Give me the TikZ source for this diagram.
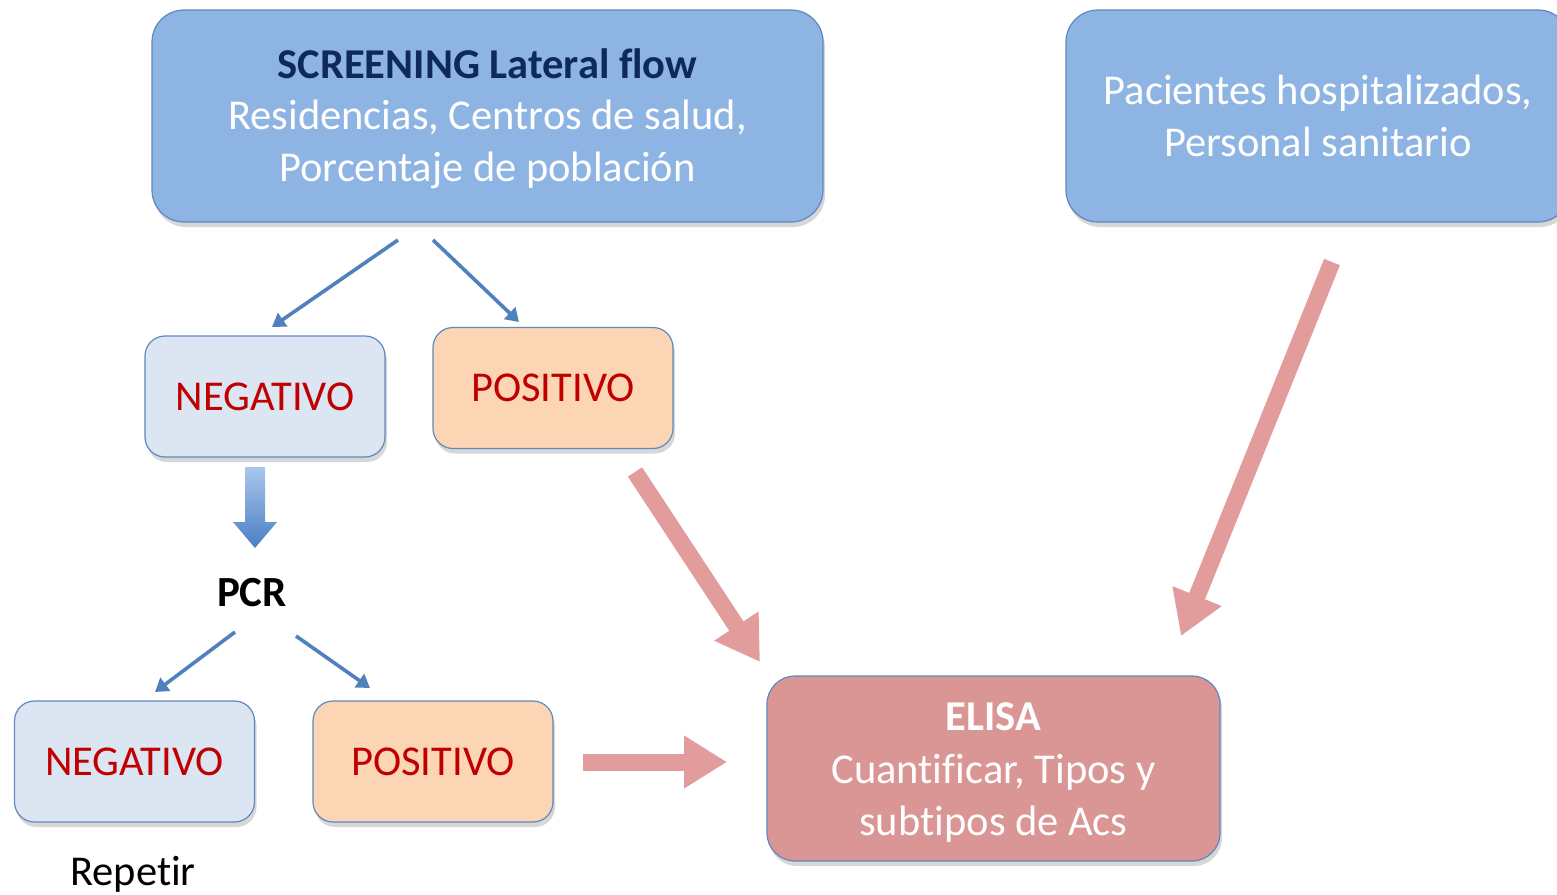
\documentclass[tikz,border=0pt]{standalone}
\usepackage{fontspec}
\setmainfont[Ligatures=NoCommon]{Carlito}
\usetikzlibrary{arrows.meta,shadows,calc}
\definecolor{bigblue}{HTML}{8DB4E2}
\definecolor{edgeblue}{HTML}{5F88BF}
\definecolor{lightblue}{HTML}{DCE6F2}
\definecolor{peach}{HTML}{FCD5B5}
\definecolor{elisapink}{HTML}{D99694}
\definecolor{arrowpink}{HTML}{E39C9C}
\definecolor{redtext}{HTML}{C00000}
\definecolor{navy}{HTML}{0E2A5C}
\definecolor{thinblue}{HTML}{4F81BD}
\definecolor{gradtop}{HTML}{A9C8EC}
\definecolor{gradbot}{HTML}{4A7EC4}
\tikzset{
  box/.style={draw=edgeblue, line width=1.2pt, align=center, inner sep=0pt,
    drop shadow={shadow xshift=2pt, shadow yshift=-5pt, opacity=0.22, fill=black!70}},
  bigbox/.style={box, fill=bigblue, rounded corners=32pt},
  boxtext/.style={inner sep=0pt, align=center, text=white,
    font=\fontsize{42.5}{51.5}\selectfont},
  negbox/.style={box, fill=lightblue, rounded corners=20pt, text=redtext,
    minimum width=240pt, minimum height=121pt, font=\fontsize{42.5}{51}\selectfont},
  posbox/.style={negbox, fill=peach},
  elisabox/.style={box, fill=elisapink, rounded corners=28pt},
  thinarrow/.style={draw=thinblue, line width=3.6pt,
    -{Triangle[length=13pt,width=16pt]}},
  pinkarrow/.style={draw=arrowpink, line width=17pt,
    -{Triangle[length=43pt,width=50pt]}},
  plaintext/.style={inner sep=0pt, text=black, font=\fontsize{42.5}{51}\selectfont}
}
\begin{document}
\begin{tikzpicture}[x=1pt,y=-1pt]
\useasboundingbox (0,0) rectangle (1557,894);
\fill[white] (0,0) rectangle (1557,894);

\node[bigbox, minimum width=671pt, minimum height=212pt] (scr) at (487.5,116) {};
\node[boxtext] (scrt) at ($(scr.center)+(0,2.5)$)
  {\textbf{\textcolor{navy}{SCREENING Lateral flow}}\\Residencias, Centros de salud,\\Porcentaje de población};
\node[bigbox, minimum width=504pt, minimum height=212pt] (pac) at (1318,116) {};
\node[boxtext] (pact) at ($(pac.center)+(0,0)$)
  {Pacientes hospitalizados,\\Personal sanitario};

\node[negbox] (neg1) at (265,396.5) {NEGATIVO};
\node[posbox] (pos1) at (553,388) {POSITIVO};
\node[negbox] (neg2) at (134.5,761.5) {NEGATIVO};
\node[posbox] (pos2) at (433,761.5) {POSITIVO};
\node[elisabox, minimum width=453pt, minimum height=185pt] (elisa) at (993.5,768.5) {};
\node[boxtext, font=\fontsize{42.5}{52.5}\selectfont] (elisat) at ($(elisa.center)+(0,4)$)
  {\textbf{ELISA}\\Cuantificar, Tipos y\\subtipos de Acs};

\node[plaintext, font=\fontsize{43}{50}\selectfont\bfseries] (pcr) at (252,593) {PCR};
\node[plaintext] (rep) at (133,874) {Repetir};

% thin blue arrows
\coordinate (s1) at (398,240); \coordinate (e1) at (272,327);
\coordinate (s2) at (433,240); \coordinate (e2) at (519,322);
\coordinate (s3) at (235,632); \coordinate (e3) at (155,692);
\coordinate (s4) at (296,636); \coordinate (e4) at (370,688);
\draw[thinarrow] (s1) -- (e1);
\draw[thinarrow] (s2) -- (e2);
\draw[thinarrow] (s3) -- (e3);
\draw[thinarrow] (s4) -- (e4);

% thick gradient arrow from neg1 to PCR
\coordinate (ta) at (255,467);
\shade[top color=gradtop, bottom color=gradbot]
  ($(ta)+(-10,0)$) -- ($(ta)+(10,0)$) -- ($(ta)+(10,55)$) -- ($(ta)+(22,55)$)
  -- ($(ta)+(0,81)$) -- ($(ta)+(-22,55)$) -- ($(ta)+(-10,55)$) -- cycle;

% pink block arrows
\coordinate (p1s) at (635,472); \coordinate (p1e) at (760,662);
\coordinate (p2s) at (1332,262); \coordinate (p2e) at (1181,636);
\coordinate (p3s) at (583,762); \coordinate (p3e) at (727,762);
\draw[pinkarrow] (p1s) -- (p1e);
\draw[pinkarrow] (p2s) -- (p2e);
\draw[pinkarrow] (p3s) -- (p3e);
\end{tikzpicture}
\end{document}
